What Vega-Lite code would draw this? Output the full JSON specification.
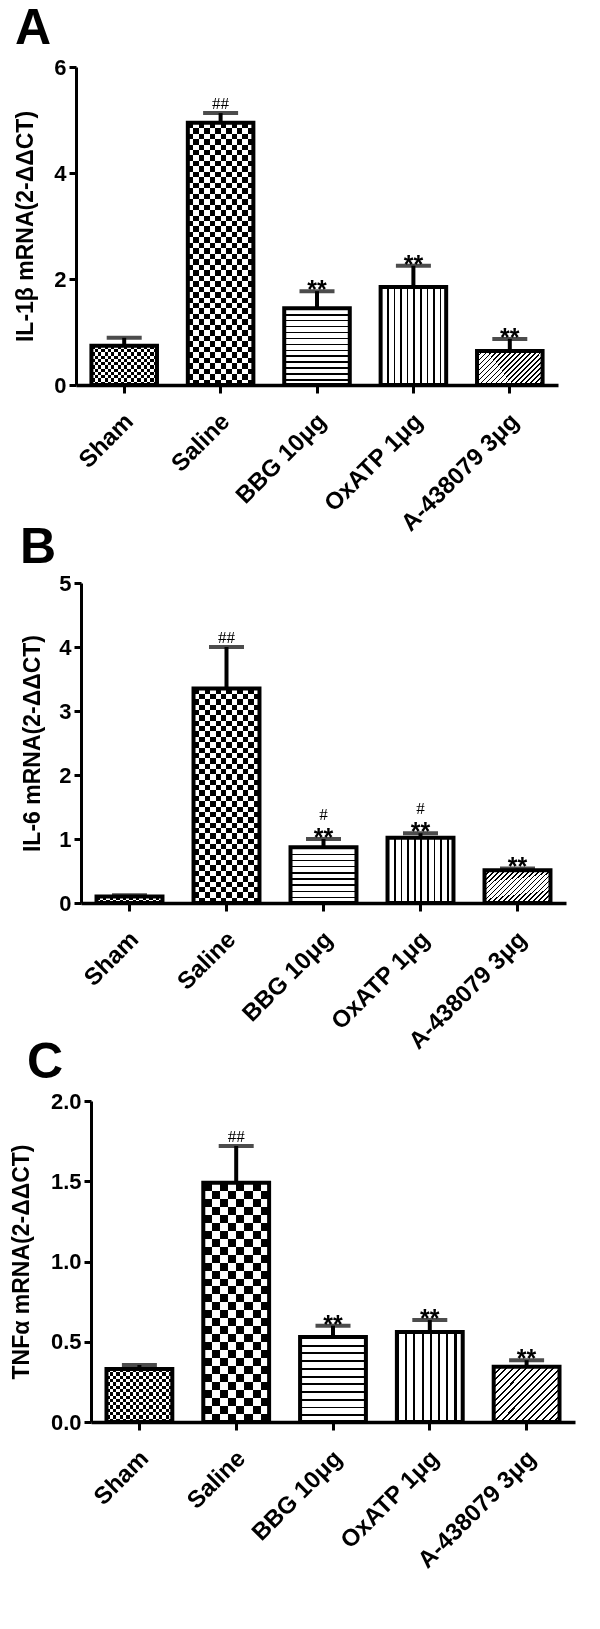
{
  "$schema": "https://vega.github.io/schema/vega-lite/v6.json",
  "background": "white",
  "padding": {"left": 10, "top": 4, "right": 5, "bottom": 5},
  "bounds": "flush",
  "spacing": 198,
  "datasets": {
    "a": [
      {"group": "Sham", "mean": 0.74, "err": 0.89, "star": "", "hash": ""},
      {"group": "Saline", "mean": 4.95, "err": 5.13, "star": "", "hash": "##"},
      {"group": "BBG 10μg", "mean": 1.45, "err": 1.77, "star": "**", "hash": ""},
      {"group": "OxATP 1μg", "mean": 1.85, "err": 2.25, "star": "**", "hash": ""},
      {"group": "A-438079 3μg", "mean": 0.64, "err": 0.87, "star": "**", "hash": ""}
    ],
    "b": [
      {"group": "Sham", "mean": 0.1, "err": 0.12, "star": "", "hash": ""},
      {"group": "Saline", "mean": 3.35, "err": 4.0, "star": "", "hash": "##"},
      {"group": "BBG 10μg", "mean": 0.87, "err": 1.0, "star": "**", "hash": "#"},
      {"group": "OxATP 1μg", "mean": 1.02, "err": 1.09, "star": "**", "hash": "#"},
      {"group": "A-438079 3μg", "mean": 0.51, "err": 0.54, "star": "**", "hash": ""}
    ],
    "c": [
      {"group": "Sham", "mean": 0.33, "err": 0.355, "star": "", "hash": ""},
      {"group": "Saline", "mean": 1.49, "err": 1.72, "star": "", "hash": "##"},
      {"group": "BBG 10μg", "mean": 0.53, "err": 0.6, "star": "**", "hash": ""},
      {"group": "OxATP 1μg", "mean": 0.56, "err": 0.635, "star": "**", "hash": ""},
      {"group": "A-438079 3μg", "mean": 0.345, "err": 0.385, "star": "**", "hash": ""}
    ]
  },
  "config": {
    "view": {"stroke": null},
    "font": "Liberation Sans",
    "axis": {"grid": false, "domainColor": "#000", "domainWidth": 3, "tickColor": "#000", "tickWidth": 3, "tickSize": 7, "labelColor": "#000", "labelFont": "Liberation Sans", "labelFontWeight": "bold", "labelFontSize": 22, "titleColor": "#000", "titleFont": "Liberation Sans", "titleFontWeight": "bold", "titleFontSize": 23},
    "axisX": {"labelAngle": -45, "labelFontSize": 24, "tickSize": 8, "domainWidth": 3.5, "labelPadding": 16, "labelOffset": -3},
    "axisY": {"labelPadding": 3},
    "bar": {"stroke": "#000", "strokeWidth": 4, "strokeJoin": "miter"}
  },
  "vconcat": [
    {
      "title": {"text": "A", "anchor": "start", "frame": "group", "fontSize": 50, "fontWeight": "bold", "font": "Liberation Sans", "color": "#000", "dx": -61, "offset": -38, "baseline": "alphabetic"},
      "width": 482,
      "height": 318,
      "data": {"name": "a"},
      "encoding": {
        "x": {"field": "group", "type": "nominal", "title": null, "scale": {"domain": ["Sham", "Saline", "BBG 10μg", "OxATP 1μg", "A-438079 3μg"], "range": [0, 482], "paddingInner": 0.32, "paddingOuter": 0.16}},
        "y": {"field": "mean", "type": "quantitative", "title": "IL-1β mRNA(2-ΔΔCT)", "scale": {"domain": [0, 6]}, "axis": {"values": [0, 2, 4, 6], "titlePadding": 16}}
      },
      "layer": [
        {"transform": [{"filter": "datum.group === 'Sham'"}], "mark": {"type": "bar", "fill": {"gradient": "linear", "x1": 0, "y1": 0, "x2": 1, "y2": 0, "stops": [
          {"offset":0,"color":"#000"},{"offset":0.05,"color":"#000"},{"offset":0.05,"color":"#fff"},{"offset":0.1,"color":"#fff"},
          {"offset":0.1,"color":"#000"},{"offset":0.15,"color":"#000"},{"offset":0.15,"color":"#fff"},{"offset":0.2,"color":"#fff"},
          {"offset":0.2,"color":"#000"},{"offset":0.25,"color":"#000"},{"offset":0.25,"color":"#fff"},{"offset":0.3,"color":"#fff"},
          {"offset":0.3,"color":"#000"},{"offset":0.35,"color":"#000"},{"offset":0.35,"color":"#fff"},{"offset":0.4,"color":"#fff"},
          {"offset":0.4,"color":"#000"},{"offset":0.45,"color":"#000"},{"offset":0.45,"color":"#fff"},{"offset":0.5,"color":"#fff"},
          {"offset":0.5,"color":"#000"},{"offset":0.55,"color":"#000"},{"offset":0.55,"color":"#fff"},{"offset":0.6,"color":"#fff"},
          {"offset":0.6,"color":"#000"},{"offset":0.65,"color":"#000"},{"offset":0.65,"color":"#fff"},{"offset":0.7,"color":"#fff"},
          {"offset":0.7,"color":"#000"},{"offset":0.75,"color":"#000"},{"offset":0.75,"color":"#fff"},{"offset":0.8,"color":"#fff"},
          {"offset":0.8,"color":"#000"},{"offset":0.85,"color":"#000"},{"offset":0.85,"color":"#fff"},{"offset":0.9,"color":"#fff"},
          {"offset":0.9,"color":"#000"},{"offset":0.95,"color":"#000"},{"offset":0.95,"color":"#fff"},{"offset":1,"color":"#fff"}]}}},
        {"transform": [{"filter": "datum.group === 'Sham'"}], "mark": {"type": "bar", "blend": "difference", "fill": {"gradient": "linear", "x1": 0, "y1": 0, "x2": 0, "y2": 1, "stops": [
          {"offset":0,"color":"#000"},{"offset":0.0833,"color":"#000"},{"offset":0.0833,"color":"#fff"},{"offset":0.1667,"color":"#fff"},
          {"offset":0.1667,"color":"#000"},{"offset":0.25,"color":"#000"},{"offset":0.25,"color":"#fff"},{"offset":0.3333,"color":"#fff"},
          {"offset":0.3333,"color":"#000"},{"offset":0.4167,"color":"#000"},{"offset":0.4167,"color":"#fff"},{"offset":0.5,"color":"#fff"},
          {"offset":0.5,"color":"#000"},{"offset":0.5833,"color":"#000"},{"offset":0.5833,"color":"#fff"},{"offset":0.6667,"color":"#fff"},
          {"offset":0.6667,"color":"#000"},{"offset":0.75,"color":"#000"},{"offset":0.75,"color":"#fff"},{"offset":0.8333,"color":"#fff"},
          {"offset":0.8333,"color":"#000"},{"offset":0.9167,"color":"#000"},{"offset":0.9167,"color":"#fff"},{"offset":1,"color":"#fff"}]}}},
        {"transform": [{"filter": "datum.group === 'Saline'"}], "mark": {"type": "bar", "fill": {"gradient": "linear", "x1": 0, "y1": 0, "x2": 1, "y2": 0, "stops": [
          {"offset":0,"color":"#000"},{"offset":0.0833,"color":"#000"},{"offset":0.0833,"color":"#fff"},{"offset":0.1667,"color":"#fff"},
          {"offset":0.1667,"color":"#000"},{"offset":0.25,"color":"#000"},{"offset":0.25,"color":"#fff"},{"offset":0.3333,"color":"#fff"},
          {"offset":0.3333,"color":"#000"},{"offset":0.4167,"color":"#000"},{"offset":0.4167,"color":"#fff"},{"offset":0.5,"color":"#fff"},
          {"offset":0.5,"color":"#000"},{"offset":0.5833,"color":"#000"},{"offset":0.5833,"color":"#fff"},{"offset":0.6667,"color":"#fff"},
          {"offset":0.6667,"color":"#000"},{"offset":0.75,"color":"#000"},{"offset":0.75,"color":"#fff"},{"offset":0.8333,"color":"#fff"},
          {"offset":0.8333,"color":"#000"},{"offset":0.9167,"color":"#000"},{"offset":0.9167,"color":"#fff"},{"offset":1,"color":"#fff"}]}}},
        {"transform": [{"filter": "datum.group === 'Saline'"}], "mark": {"type": "bar", "blend": "difference", "fill": {"gradient": "linear", "x1": 0, "y1": 0, "x2": 0, "y2": 1, "stops": [
          {"offset":0,"color":"#000"},{"offset":0.0208,"color":"#000"},{"offset":0.0208,"color":"#fff"},{"offset":0.0417,"color":"#fff"},
          {"offset":0.0417,"color":"#000"},{"offset":0.0625,"color":"#000"},{"offset":0.0625,"color":"#fff"},{"offset":0.0833,"color":"#fff"},
          {"offset":0.0833,"color":"#000"},{"offset":0.1042,"color":"#000"},{"offset":0.1042,"color":"#fff"},{"offset":0.125,"color":"#fff"},
          {"offset":0.125,"color":"#000"},{"offset":0.1458,"color":"#000"},{"offset":0.1458,"color":"#fff"},{"offset":0.1667,"color":"#fff"},
          {"offset":0.1667,"color":"#000"},{"offset":0.1875,"color":"#000"},{"offset":0.1875,"color":"#fff"},{"offset":0.2083,"color":"#fff"},
          {"offset":0.2083,"color":"#000"},{"offset":0.2292,"color":"#000"},{"offset":0.2292,"color":"#fff"},{"offset":0.25,"color":"#fff"},
          {"offset":0.25,"color":"#000"},{"offset":0.2708,"color":"#000"},{"offset":0.2708,"color":"#fff"},{"offset":0.2917,"color":"#fff"},
          {"offset":0.2917,"color":"#000"},{"offset":0.3125,"color":"#000"},{"offset":0.3125,"color":"#fff"},{"offset":0.3333,"color":"#fff"},
          {"offset":0.3333,"color":"#000"},{"offset":0.3542,"color":"#000"},{"offset":0.3542,"color":"#fff"},{"offset":0.375,"color":"#fff"},
          {"offset":0.375,"color":"#000"},{"offset":0.3958,"color":"#000"},{"offset":0.3958,"color":"#fff"},{"offset":0.4167,"color":"#fff"},
          {"offset":0.4167,"color":"#000"},{"offset":0.4375,"color":"#000"},{"offset":0.4375,"color":"#fff"},{"offset":0.4583,"color":"#fff"},
          {"offset":0.4583,"color":"#000"},{"offset":0.4792,"color":"#000"},{"offset":0.4792,"color":"#fff"},{"offset":0.5,"color":"#fff"},
          {"offset":0.5,"color":"#000"},{"offset":0.5208,"color":"#000"},{"offset":0.5208,"color":"#fff"},{"offset":0.5417,"color":"#fff"},
          {"offset":0.5417,"color":"#000"},{"offset":0.5625,"color":"#000"},{"offset":0.5625,"color":"#fff"},{"offset":0.5833,"color":"#fff"},
          {"offset":0.5833,"color":"#000"},{"offset":0.6042,"color":"#000"},{"offset":0.6042,"color":"#fff"},{"offset":0.625,"color":"#fff"},
          {"offset":0.625,"color":"#000"},{"offset":0.6458,"color":"#000"},{"offset":0.6458,"color":"#fff"},{"offset":0.6667,"color":"#fff"},
          {"offset":0.6667,"color":"#000"},{"offset":0.6875,"color":"#000"},{"offset":0.6875,"color":"#fff"},{"offset":0.7083,"color":"#fff"},
          {"offset":0.7083,"color":"#000"},{"offset":0.7292,"color":"#000"},{"offset":0.7292,"color":"#fff"},{"offset":0.75,"color":"#fff"},
          {"offset":0.75,"color":"#000"},{"offset":0.7708,"color":"#000"},{"offset":0.7708,"color":"#fff"},{"offset":0.7917,"color":"#fff"},
          {"offset":0.7917,"color":"#000"},{"offset":0.8125,"color":"#000"},{"offset":0.8125,"color":"#fff"},{"offset":0.8333,"color":"#fff"},
          {"offset":0.8333,"color":"#000"},{"offset":0.8542,"color":"#000"},{"offset":0.8542,"color":"#fff"},{"offset":0.875,"color":"#fff"},
          {"offset":0.875,"color":"#000"},{"offset":0.8958,"color":"#000"},{"offset":0.8958,"color":"#fff"},{"offset":0.9167,"color":"#fff"},
          {"offset":0.9167,"color":"#000"},{"offset":0.9375,"color":"#000"},{"offset":0.9375,"color":"#fff"},{"offset":0.9583,"color":"#fff"},
          {"offset":0.9583,"color":"#000"},{"offset":0.9792,"color":"#000"},{"offset":0.9792,"color":"#fff"},{"offset":1,"color":"#fff"}]}}},
        {"transform": [{"filter": "datum.group === 'BBG 10μg'"}], "mark": {"type": "bar", "fill": {"gradient": "linear", "x1": 0, "y1": 0, "x2": 0, "y2": 1, "stops": [
          {"offset":0,"color":"#000"},{"offset":0.0192,"color":"#000"},{"offset":0.0192,"color":"#fff"},{"offset":0.0769,"color":"#fff"},
          {"offset":0.0769,"color":"#000"},{"offset":0.0962,"color":"#000"},{"offset":0.0962,"color":"#fff"},{"offset":0.1538,"color":"#fff"},
          {"offset":0.1538,"color":"#000"},{"offset":0.1731,"color":"#000"},{"offset":0.1731,"color":"#fff"},{"offset":0.2308,"color":"#fff"},
          {"offset":0.2308,"color":"#000"},{"offset":0.25,"color":"#000"},{"offset":0.25,"color":"#fff"},{"offset":0.3077,"color":"#fff"},
          {"offset":0.3077,"color":"#000"},{"offset":0.3269,"color":"#000"},{"offset":0.3269,"color":"#fff"},{"offset":0.3846,"color":"#fff"},
          {"offset":0.3846,"color":"#000"},{"offset":0.4038,"color":"#000"},{"offset":0.4038,"color":"#fff"},{"offset":0.4615,"color":"#fff"},
          {"offset":0.4615,"color":"#000"},{"offset":0.4808,"color":"#000"},{"offset":0.4808,"color":"#fff"},{"offset":0.5385,"color":"#fff"},
          {"offset":0.5385,"color":"#000"},{"offset":0.5577,"color":"#000"},{"offset":0.5577,"color":"#fff"},{"offset":0.6154,"color":"#fff"},
          {"offset":0.6154,"color":"#000"},{"offset":0.6346,"color":"#000"},{"offset":0.6346,"color":"#fff"},{"offset":0.6923,"color":"#fff"},
          {"offset":0.6923,"color":"#000"},{"offset":0.7115,"color":"#000"},{"offset":0.7115,"color":"#fff"},{"offset":0.7692,"color":"#fff"},
          {"offset":0.7692,"color":"#000"},{"offset":0.7885,"color":"#000"},{"offset":0.7885,"color":"#fff"},{"offset":0.8462,"color":"#fff"},
          {"offset":0.8462,"color":"#000"},{"offset":0.8654,"color":"#000"},{"offset":0.8654,"color":"#fff"},{"offset":0.9231,"color":"#fff"},
          {"offset":0.9231,"color":"#000"},{"offset":0.9423,"color":"#000"},{"offset":0.9423,"color":"#fff"},{"offset":1,"color":"#fff"}]}}},
        {"transform": [{"filter": "datum.group === 'OxATP 1μg'"}], "mark": {"type": "bar", "fill": {"gradient": "linear", "x1": 0, "y1": 0, "x2": 1, "y2": 0, "stops": [
          {"offset":0,"color":"#000"},{"offset":0.025,"color":"#000"},{"offset":0.025,"color":"#fff"},{"offset":0.1,"color":"#fff"},
          {"offset":0.1,"color":"#000"},{"offset":0.125,"color":"#000"},{"offset":0.125,"color":"#fff"},{"offset":0.2,"color":"#fff"},
          {"offset":0.2,"color":"#000"},{"offset":0.225,"color":"#000"},{"offset":0.225,"color":"#fff"},{"offset":0.3,"color":"#fff"},
          {"offset":0.3,"color":"#000"},{"offset":0.325,"color":"#000"},{"offset":0.325,"color":"#fff"},{"offset":0.4,"color":"#fff"},
          {"offset":0.4,"color":"#000"},{"offset":0.425,"color":"#000"},{"offset":0.425,"color":"#fff"},{"offset":0.5,"color":"#fff"},
          {"offset":0.5,"color":"#000"},{"offset":0.525,"color":"#000"},{"offset":0.525,"color":"#fff"},{"offset":0.6,"color":"#fff"},
          {"offset":0.6,"color":"#000"},{"offset":0.625,"color":"#000"},{"offset":0.625,"color":"#fff"},{"offset":0.7,"color":"#fff"},
          {"offset":0.7,"color":"#000"},{"offset":0.725,"color":"#000"},{"offset":0.725,"color":"#fff"},{"offset":0.8,"color":"#fff"},
          {"offset":0.8,"color":"#000"},{"offset":0.825,"color":"#000"},{"offset":0.825,"color":"#fff"},{"offset":0.9,"color":"#fff"},
          {"offset":0.9,"color":"#000"},{"offset":0.925,"color":"#000"},{"offset":0.925,"color":"#fff"},{"offset":1,"color":"#fff"}]}}},
        {"transform": [{"filter": "datum.group === 'A-438079 3μg'"}], "mark": {"type": "bar", "fill": {"gradient": "linear", "x1": 0, "y1": 0, "x2": 1.2, "y2": 0.61, "stops": [
          {"offset":0,"color":"#000"},{"offset":0.015,"color":"#000"},{"offset":0.015,"color":"#fff"},{"offset":0.05,"color":"#fff"},
          {"offset":0.05,"color":"#000"},{"offset":0.065,"color":"#000"},{"offset":0.065,"color":"#fff"},{"offset":0.1,"color":"#fff"},
          {"offset":0.1,"color":"#000"},{"offset":0.115,"color":"#000"},{"offset":0.115,"color":"#fff"},{"offset":0.15,"color":"#fff"},
          {"offset":0.15,"color":"#000"},{"offset":0.165,"color":"#000"},{"offset":0.165,"color":"#fff"},{"offset":0.2,"color":"#fff"},
          {"offset":0.2,"color":"#000"},{"offset":0.215,"color":"#000"},{"offset":0.215,"color":"#fff"},{"offset":0.25,"color":"#fff"},
          {"offset":0.25,"color":"#000"},{"offset":0.265,"color":"#000"},{"offset":0.265,"color":"#fff"},{"offset":0.3,"color":"#fff"},
          {"offset":0.3,"color":"#000"},{"offset":0.315,"color":"#000"},{"offset":0.315,"color":"#fff"},{"offset":0.35,"color":"#fff"},
          {"offset":0.35,"color":"#000"},{"offset":0.365,"color":"#000"},{"offset":0.365,"color":"#fff"},{"offset":0.4,"color":"#fff"},
          {"offset":0.4,"color":"#000"},{"offset":0.415,"color":"#000"},{"offset":0.415,"color":"#fff"},{"offset":0.45,"color":"#fff"},
          {"offset":0.45,"color":"#000"},{"offset":0.465,"color":"#000"},{"offset":0.465,"color":"#fff"},{"offset":0.5,"color":"#fff"},
          {"offset":0.5,"color":"#000"},{"offset":0.515,"color":"#000"},{"offset":0.515,"color":"#fff"},{"offset":0.55,"color":"#fff"},
          {"offset":0.55,"color":"#000"},{"offset":0.565,"color":"#000"},{"offset":0.565,"color":"#fff"},{"offset":0.6,"color":"#fff"},
          {"offset":0.6,"color":"#000"},{"offset":0.615,"color":"#000"},{"offset":0.615,"color":"#fff"},{"offset":0.65,"color":"#fff"},
          {"offset":0.65,"color":"#000"},{"offset":0.665,"color":"#000"},{"offset":0.665,"color":"#fff"},{"offset":0.7,"color":"#fff"},
          {"offset":0.7,"color":"#000"},{"offset":0.715,"color":"#000"},{"offset":0.715,"color":"#fff"},{"offset":0.75,"color":"#fff"},
          {"offset":0.75,"color":"#000"},{"offset":0.765,"color":"#000"},{"offset":0.765,"color":"#fff"},{"offset":0.8,"color":"#fff"},
          {"offset":0.8,"color":"#000"},{"offset":0.815,"color":"#000"},{"offset":0.815,"color":"#fff"},{"offset":0.85,"color":"#fff"},
          {"offset":0.85,"color":"#000"},{"offset":0.865,"color":"#000"},{"offset":0.865,"color":"#fff"},{"offset":0.9,"color":"#fff"},
          {"offset":0.9,"color":"#000"},{"offset":0.915,"color":"#000"},{"offset":0.915,"color":"#fff"},{"offset":0.95,"color":"#fff"},
          {"offset":0.95,"color":"#000"},{"offset":0.965,"color":"#000"},{"offset":0.965,"color":"#fff"},{"offset":1,"color":"#fff"}]}}},
        {"mark": {"type": "rule", "color": "#000", "strokeWidth": 4}, "encoding": {"y2": {"field": "err"}}},
        {"mark": {"type": "tick", "color": "#000", "thickness": 4, "size": 35}, "encoding": {"y": {"field": "err", "type": "quantitative", "title": "IL-1β mRNA(2-ΔΔCT)"}}},
        {"mark": {"type": "text", "font": "Liberation Sans", "fontSize": 25, "fontWeight": "bold", "baseline": "alphabetic", "dy": 7, "color": "#000"}, "encoding": {"y": {"field": "err", "type": "quantitative", "title": "IL-1β mRNA(2-ΔΔCT)"}, "text": {"field": "star"}}},
        {"mark": {"type": "text", "font": "Liberation Serif", "fontSize": 17, "baseline": "alphabetic", "dy": -4, "color": "#000"}, "encoding": {"y": {"field": "err", "type": "quantitative", "title": "IL-1β mRNA(2-ΔΔCT)"}, "text": {"field": "hash"}}}
      ]
    },
    {
      "title": {"text": "B", "anchor": "start", "frame": "group", "fontSize": 50, "fontWeight": "bold", "font": "Liberation Sans", "color": "#000", "dx": -56, "offset": -41, "baseline": "alphabetic"},
      "width": 490,
      "height": 320,
      "data": {"name": "b"},
      "encoding": {
        "x": {"field": "group", "type": "nominal", "title": null, "scale": {"domain": ["Sham", "Saline", "BBG 10μg", "OxATP 1μg", "A-438079 3μg"], "range": [5, 490], "paddingInner": 0.32, "paddingOuter": 0.16}},
        "y": {"field": "mean", "type": "quantitative", "title": "IL-6 mRNA(2-ΔΔCT)", "scale": {"domain": [0, 5]}, "axis": {"values": [0, 1, 2, 3, 4, 5], "offset": -5, "titlePadding": 14}}
      },
      "layer": [
        {"transform": [{"filter": "datum.group === 'Sham'"}], "mark": {"type": "bar", "fill": {"gradient": "linear", "x1": 0, "y1": 0, "x2": 1, "y2": 0, "stops": [
          {"offset":0,"color":"#000"},{"offset":0.05,"color":"#000"},{"offset":0.05,"color":"#fff"},{"offset":0.1,"color":"#fff"},
          {"offset":0.1,"color":"#000"},{"offset":0.15,"color":"#000"},{"offset":0.15,"color":"#fff"},{"offset":0.2,"color":"#fff"},
          {"offset":0.2,"color":"#000"},{"offset":0.25,"color":"#000"},{"offset":0.25,"color":"#fff"},{"offset":0.3,"color":"#fff"},
          {"offset":0.3,"color":"#000"},{"offset":0.35,"color":"#000"},{"offset":0.35,"color":"#fff"},{"offset":0.4,"color":"#fff"},
          {"offset":0.4,"color":"#000"},{"offset":0.45,"color":"#000"},{"offset":0.45,"color":"#fff"},{"offset":0.5,"color":"#fff"},
          {"offset":0.5,"color":"#000"},{"offset":0.55,"color":"#000"},{"offset":0.55,"color":"#fff"},{"offset":0.6,"color":"#fff"},
          {"offset":0.6,"color":"#000"},{"offset":0.65,"color":"#000"},{"offset":0.65,"color":"#fff"},{"offset":0.7,"color":"#fff"},
          {"offset":0.7,"color":"#000"},{"offset":0.75,"color":"#000"},{"offset":0.75,"color":"#fff"},{"offset":0.8,"color":"#fff"},
          {"offset":0.8,"color":"#000"},{"offset":0.85,"color":"#000"},{"offset":0.85,"color":"#fff"},{"offset":0.9,"color":"#fff"},
          {"offset":0.9,"color":"#000"},{"offset":0.95,"color":"#000"},{"offset":0.95,"color":"#fff"},{"offset":1,"color":"#fff"}]}}},
        {"transform": [{"filter": "datum.group === 'Sham'"}], "mark": {"type": "bar", "blend": "difference", "fill": {"gradient": "linear", "x1": 0, "y1": 0, "x2": 0, "y2": 1, "stops": [
          {"offset":0,"color":"#000"},{"offset":0.5,"color":"#000"},{"offset":0.5,"color":"#fff"},{"offset":1,"color":"#fff"}]}}},
        {"transform": [{"filter": "datum.group === 'Saline'"}], "mark": {"type": "bar", "fill": {"gradient": "linear", "x1": 0, "y1": 0, "x2": 1, "y2": 0, "stops": [
          {"offset":0,"color":"#000"},{"offset":0.0833,"color":"#000"},{"offset":0.0833,"color":"#fff"},{"offset":0.1667,"color":"#fff"},
          {"offset":0.1667,"color":"#000"},{"offset":0.25,"color":"#000"},{"offset":0.25,"color":"#fff"},{"offset":0.3333,"color":"#fff"},
          {"offset":0.3333,"color":"#000"},{"offset":0.4167,"color":"#000"},{"offset":0.4167,"color":"#fff"},{"offset":0.5,"color":"#fff"},
          {"offset":0.5,"color":"#000"},{"offset":0.5833,"color":"#000"},{"offset":0.5833,"color":"#fff"},{"offset":0.6667,"color":"#fff"},
          {"offset":0.6667,"color":"#000"},{"offset":0.75,"color":"#000"},{"offset":0.75,"color":"#fff"},{"offset":0.8333,"color":"#fff"},
          {"offset":0.8333,"color":"#000"},{"offset":0.9167,"color":"#000"},{"offset":0.9167,"color":"#fff"},{"offset":1,"color":"#fff"}]}}},
        {"transform": [{"filter": "datum.group === 'Saline'"}], "mark": {"type": "bar", "blend": "difference", "fill": {"gradient": "linear", "x1": 0, "y1": 0, "x2": 0, "y2": 1, "stops": [
          {"offset":0,"color":"#000"},{"offset":0.025,"color":"#000"},{"offset":0.025,"color":"#fff"},{"offset":0.05,"color":"#fff"},
          {"offset":0.05,"color":"#000"},{"offset":0.075,"color":"#000"},{"offset":0.075,"color":"#fff"},{"offset":0.1,"color":"#fff"},
          {"offset":0.1,"color":"#000"},{"offset":0.125,"color":"#000"},{"offset":0.125,"color":"#fff"},{"offset":0.15,"color":"#fff"},
          {"offset":0.15,"color":"#000"},{"offset":0.175,"color":"#000"},{"offset":0.175,"color":"#fff"},{"offset":0.2,"color":"#fff"},
          {"offset":0.2,"color":"#000"},{"offset":0.225,"color":"#000"},{"offset":0.225,"color":"#fff"},{"offset":0.25,"color":"#fff"},
          {"offset":0.25,"color":"#000"},{"offset":0.275,"color":"#000"},{"offset":0.275,"color":"#fff"},{"offset":0.3,"color":"#fff"},
          {"offset":0.3,"color":"#000"},{"offset":0.325,"color":"#000"},{"offset":0.325,"color":"#fff"},{"offset":0.35,"color":"#fff"},
          {"offset":0.35,"color":"#000"},{"offset":0.375,"color":"#000"},{"offset":0.375,"color":"#fff"},{"offset":0.4,"color":"#fff"},
          {"offset":0.4,"color":"#000"},{"offset":0.425,"color":"#000"},{"offset":0.425,"color":"#fff"},{"offset":0.45,"color":"#fff"},
          {"offset":0.45,"color":"#000"},{"offset":0.475,"color":"#000"},{"offset":0.475,"color":"#fff"},{"offset":0.5,"color":"#fff"},
          {"offset":0.5,"color":"#000"},{"offset":0.525,"color":"#000"},{"offset":0.525,"color":"#fff"},{"offset":0.55,"color":"#fff"},
          {"offset":0.55,"color":"#000"},{"offset":0.575,"color":"#000"},{"offset":0.575,"color":"#fff"},{"offset":0.6,"color":"#fff"},
          {"offset":0.6,"color":"#000"},{"offset":0.625,"color":"#000"},{"offset":0.625,"color":"#fff"},{"offset":0.65,"color":"#fff"},
          {"offset":0.65,"color":"#000"},{"offset":0.675,"color":"#000"},{"offset":0.675,"color":"#fff"},{"offset":0.7,"color":"#fff"},
          {"offset":0.7,"color":"#000"},{"offset":0.725,"color":"#000"},{"offset":0.725,"color":"#fff"},{"offset":0.75,"color":"#fff"},
          {"offset":0.75,"color":"#000"},{"offset":0.775,"color":"#000"},{"offset":0.775,"color":"#fff"},{"offset":0.8,"color":"#fff"},
          {"offset":0.8,"color":"#000"},{"offset":0.825,"color":"#000"},{"offset":0.825,"color":"#fff"},{"offset":0.85,"color":"#fff"},
          {"offset":0.85,"color":"#000"},{"offset":0.875,"color":"#000"},{"offset":0.875,"color":"#fff"},{"offset":0.9,"color":"#fff"},
          {"offset":0.9,"color":"#000"},{"offset":0.925,"color":"#000"},{"offset":0.925,"color":"#fff"},{"offset":0.95,"color":"#fff"},
          {"offset":0.95,"color":"#000"},{"offset":0.975,"color":"#000"},{"offset":0.975,"color":"#fff"},{"offset":1,"color":"#fff"}]}}},
        {"transform": [{"filter": "datum.group === 'BBG 10μg'"}], "mark": {"type": "bar", "fill": {"gradient": "linear", "x1": 0, "y1": 0, "x2": 0, "y2": 1, "stops": [
          {"offset":0,"color":"#000"},{"offset":0.0278,"color":"#000"},{"offset":0.0278,"color":"#fff"},{"offset":0.1111,"color":"#fff"},
          {"offset":0.1111,"color":"#000"},{"offset":0.1389,"color":"#000"},{"offset":0.1389,"color":"#fff"},{"offset":0.2222,"color":"#fff"},
          {"offset":0.2222,"color":"#000"},{"offset":0.25,"color":"#000"},{"offset":0.25,"color":"#fff"},{"offset":0.3333,"color":"#fff"},
          {"offset":0.3333,"color":"#000"},{"offset":0.3611,"color":"#000"},{"offset":0.3611,"color":"#fff"},{"offset":0.4444,"color":"#fff"},
          {"offset":0.4444,"color":"#000"},{"offset":0.4722,"color":"#000"},{"offset":0.4722,"color":"#fff"},{"offset":0.5556,"color":"#fff"},
          {"offset":0.5556,"color":"#000"},{"offset":0.5833,"color":"#000"},{"offset":0.5833,"color":"#fff"},{"offset":0.6667,"color":"#fff"},
          {"offset":0.6667,"color":"#000"},{"offset":0.6944,"color":"#000"},{"offset":0.6944,"color":"#fff"},{"offset":0.7778,"color":"#fff"},
          {"offset":0.7778,"color":"#000"},{"offset":0.8056,"color":"#000"},{"offset":0.8056,"color":"#fff"},{"offset":0.8889,"color":"#fff"},
          {"offset":0.8889,"color":"#000"},{"offset":0.9167,"color":"#000"},{"offset":0.9167,"color":"#fff"},{"offset":1,"color":"#fff"}]}}},
        {"transform": [{"filter": "datum.group === 'OxATP 1μg'"}], "mark": {"type": "bar", "fill": {"gradient": "linear", "x1": 0, "y1": 0, "x2": 1, "y2": 0, "stops": [
          {"offset":0,"color":"#000"},{"offset":0.025,"color":"#000"},{"offset":0.025,"color":"#fff"},{"offset":0.1,"color":"#fff"},
          {"offset":0.1,"color":"#000"},{"offset":0.125,"color":"#000"},{"offset":0.125,"color":"#fff"},{"offset":0.2,"color":"#fff"},
          {"offset":0.2,"color":"#000"},{"offset":0.225,"color":"#000"},{"offset":0.225,"color":"#fff"},{"offset":0.3,"color":"#fff"},
          {"offset":0.3,"color":"#000"},{"offset":0.325,"color":"#000"},{"offset":0.325,"color":"#fff"},{"offset":0.4,"color":"#fff"},
          {"offset":0.4,"color":"#000"},{"offset":0.425,"color":"#000"},{"offset":0.425,"color":"#fff"},{"offset":0.5,"color":"#fff"},
          {"offset":0.5,"color":"#000"},{"offset":0.525,"color":"#000"},{"offset":0.525,"color":"#fff"},{"offset":0.6,"color":"#fff"},
          {"offset":0.6,"color":"#000"},{"offset":0.625,"color":"#000"},{"offset":0.625,"color":"#fff"},{"offset":0.7,"color":"#fff"},
          {"offset":0.7,"color":"#000"},{"offset":0.725,"color":"#000"},{"offset":0.725,"color":"#fff"},{"offset":0.8,"color":"#fff"},
          {"offset":0.8,"color":"#000"},{"offset":0.825,"color":"#000"},{"offset":0.825,"color":"#fff"},{"offset":0.9,"color":"#fff"},
          {"offset":0.9,"color":"#000"},{"offset":0.925,"color":"#000"},{"offset":0.925,"color":"#fff"},{"offset":1,"color":"#fff"}]}}},
        {"transform": [{"filter": "datum.group === 'A-438079 3μg'"}], "mark": {"type": "bar", "fill": {"gradient": "linear", "x1": 0, "y1": 0, "x2": 1.2, "y2": 0.61, "stops": [
          {"offset":0,"color":"#000"},{"offset":0.015,"color":"#000"},{"offset":0.015,"color":"#fff"},{"offset":0.05,"color":"#fff"},
          {"offset":0.05,"color":"#000"},{"offset":0.065,"color":"#000"},{"offset":0.065,"color":"#fff"},{"offset":0.1,"color":"#fff"},
          {"offset":0.1,"color":"#000"},{"offset":0.115,"color":"#000"},{"offset":0.115,"color":"#fff"},{"offset":0.15,"color":"#fff"},
          {"offset":0.15,"color":"#000"},{"offset":0.165,"color":"#000"},{"offset":0.165,"color":"#fff"},{"offset":0.2,"color":"#fff"},
          {"offset":0.2,"color":"#000"},{"offset":0.215,"color":"#000"},{"offset":0.215,"color":"#fff"},{"offset":0.25,"color":"#fff"},
          {"offset":0.25,"color":"#000"},{"offset":0.265,"color":"#000"},{"offset":0.265,"color":"#fff"},{"offset":0.3,"color":"#fff"},
          {"offset":0.3,"color":"#000"},{"offset":0.315,"color":"#000"},{"offset":0.315,"color":"#fff"},{"offset":0.35,"color":"#fff"},
          {"offset":0.35,"color":"#000"},{"offset":0.365,"color":"#000"},{"offset":0.365,"color":"#fff"},{"offset":0.4,"color":"#fff"},
          {"offset":0.4,"color":"#000"},{"offset":0.415,"color":"#000"},{"offset":0.415,"color":"#fff"},{"offset":0.45,"color":"#fff"},
          {"offset":0.45,"color":"#000"},{"offset":0.465,"color":"#000"},{"offset":0.465,"color":"#fff"},{"offset":0.5,"color":"#fff"},
          {"offset":0.5,"color":"#000"},{"offset":0.515,"color":"#000"},{"offset":0.515,"color":"#fff"},{"offset":0.55,"color":"#fff"},
          {"offset":0.55,"color":"#000"},{"offset":0.565,"color":"#000"},{"offset":0.565,"color":"#fff"},{"offset":0.6,"color":"#fff"},
          {"offset":0.6,"color":"#000"},{"offset":0.615,"color":"#000"},{"offset":0.615,"color":"#fff"},{"offset":0.65,"color":"#fff"},
          {"offset":0.65,"color":"#000"},{"offset":0.665,"color":"#000"},{"offset":0.665,"color":"#fff"},{"offset":0.7,"color":"#fff"},
          {"offset":0.7,"color":"#000"},{"offset":0.715,"color":"#000"},{"offset":0.715,"color":"#fff"},{"offset":0.75,"color":"#fff"},
          {"offset":0.75,"color":"#000"},{"offset":0.765,"color":"#000"},{"offset":0.765,"color":"#fff"},{"offset":0.8,"color":"#fff"},
          {"offset":0.8,"color":"#000"},{"offset":0.815,"color":"#000"},{"offset":0.815,"color":"#fff"},{"offset":0.85,"color":"#fff"},
          {"offset":0.85,"color":"#000"},{"offset":0.865,"color":"#000"},{"offset":0.865,"color":"#fff"},{"offset":0.9,"color":"#fff"},
          {"offset":0.9,"color":"#000"},{"offset":0.915,"color":"#000"},{"offset":0.915,"color":"#fff"},{"offset":0.95,"color":"#fff"},
          {"offset":0.95,"color":"#000"},{"offset":0.965,"color":"#000"},{"offset":0.965,"color":"#fff"},{"offset":1,"color":"#fff"}]}}},
        {"mark": {"type": "rule", "color": "#000", "strokeWidth": 4}, "encoding": {"y2": {"field": "err"}}},
        {"mark": {"type": "tick", "color": "#000", "thickness": 4, "size": 35}, "encoding": {"y": {"field": "err", "type": "quantitative", "title": "IL-6 mRNA(2-ΔΔCT)"}}},
        {"mark": {"type": "text", "font": "Liberation Sans", "fontSize": 25, "fontWeight": "bold", "baseline": "alphabetic", "dy": 7, "color": "#000"}, "encoding": {"y": {"field": "err", "type": "quantitative", "title": "IL-6 mRNA(2-ΔΔCT)"}, "text": {"field": "star"}}},
        {"transform": [{"filter": "datum.star === ''"}], "mark": {"type": "text", "font": "Liberation Serif", "fontSize": 17, "baseline": "alphabetic", "dy": -4, "color": "#000"}, "encoding": {"y": {"field": "err", "type": "quantitative", "title": "IL-6 mRNA(2-ΔΔCT)"}, "text": {"field": "hash"}}},
        {"transform": [{"filter": "datum.star !== ''"}], "mark": {"type": "text", "font": "Liberation Serif", "fontSize": 17, "baseline": "alphabetic", "dy": -19, "color": "#000"}, "encoding": {"y": {"field": "err", "type": "quantitative", "title": "IL-6 mRNA(2-ΔΔCT)"}, "text": {"field": "hash"}}}
      ]
    },
    {
      "title": {"text": "C", "anchor": "start", "frame": "group", "fontSize": 50, "fontWeight": "bold", "font": "Liberation Sans", "color": "#000", "dx": -49, "offset": -38, "baseline": "alphabetic"},
      "width": 499,
      "height": 321,
      "data": {"name": "c"},
      "encoding": {
        "x": {"field": "group", "type": "nominal", "title": null, "scale": {"domain": ["Sham", "Saline", "BBG 10μg", "OxATP 1μg", "A-438079 3μg"], "range": [15, 499], "paddingInner": 0.32, "paddingOuter": 0.16}},
        "y": {"field": "mean", "type": "quantitative", "title": "TNFα mRNA(2-ΔΔCT)", "scale": {"domain": [0, 2]}, "axis": {"values": [0, 0.5, 1, 1.5, 2], "format": ".1f", "offset": -15, "titlePadding": 17}}
      },
      "layer": [
        {"transform": [{"filter": "datum.group === 'Sham'"}], "mark": {"type": "bar", "fill": {"gradient": "linear", "x1": 0, "y1": 0, "x2": 1, "y2": 0, "stops": [
          {"offset":0,"color":"#000"},{"offset":0.05,"color":"#000"},{"offset":0.05,"color":"#fff"},{"offset":0.1,"color":"#fff"},
          {"offset":0.1,"color":"#000"},{"offset":0.15,"color":"#000"},{"offset":0.15,"color":"#fff"},{"offset":0.2,"color":"#fff"},
          {"offset":0.2,"color":"#000"},{"offset":0.25,"color":"#000"},{"offset":0.25,"color":"#fff"},{"offset":0.3,"color":"#fff"},
          {"offset":0.3,"color":"#000"},{"offset":0.35,"color":"#000"},{"offset":0.35,"color":"#fff"},{"offset":0.4,"color":"#fff"},
          {"offset":0.4,"color":"#000"},{"offset":0.45,"color":"#000"},{"offset":0.45,"color":"#fff"},{"offset":0.5,"color":"#fff"},
          {"offset":0.5,"color":"#000"},{"offset":0.55,"color":"#000"},{"offset":0.55,"color":"#fff"},{"offset":0.6,"color":"#fff"},
          {"offset":0.6,"color":"#000"},{"offset":0.65,"color":"#000"},{"offset":0.65,"color":"#fff"},{"offset":0.7,"color":"#fff"},
          {"offset":0.7,"color":"#000"},{"offset":0.75,"color":"#000"},{"offset":0.75,"color":"#fff"},{"offset":0.8,"color":"#fff"},
          {"offset":0.8,"color":"#000"},{"offset":0.85,"color":"#000"},{"offset":0.85,"color":"#fff"},{"offset":0.9,"color":"#fff"},
          {"offset":0.9,"color":"#000"},{"offset":0.95,"color":"#000"},{"offset":0.95,"color":"#fff"},{"offset":1,"color":"#fff"}]}}},
        {"transform": [{"filter": "datum.group === 'Sham'"}], "mark": {"type": "bar", "blend": "difference", "fill": {"gradient": "linear", "x1": 0, "y1": 0, "x2": 0, "y2": 1, "stops": [
          {"offset":0,"color":"#000"},{"offset":0.0625,"color":"#000"},{"offset":0.0625,"color":"#fff"},{"offset":0.125,"color":"#fff"},
          {"offset":0.125,"color":"#000"},{"offset":0.1875,"color":"#000"},{"offset":0.1875,"color":"#fff"},{"offset":0.25,"color":"#fff"},
          {"offset":0.25,"color":"#000"},{"offset":0.3125,"color":"#000"},{"offset":0.3125,"color":"#fff"},{"offset":0.375,"color":"#fff"},
          {"offset":0.375,"color":"#000"},{"offset":0.4375,"color":"#000"},{"offset":0.4375,"color":"#fff"},{"offset":0.5,"color":"#fff"},
          {"offset":0.5,"color":"#000"},{"offset":0.5625,"color":"#000"},{"offset":0.5625,"color":"#fff"},{"offset":0.625,"color":"#fff"},
          {"offset":0.625,"color":"#000"},{"offset":0.6875,"color":"#000"},{"offset":0.6875,"color":"#fff"},{"offset":0.75,"color":"#fff"},
          {"offset":0.75,"color":"#000"},{"offset":0.8125,"color":"#000"},{"offset":0.8125,"color":"#fff"},{"offset":0.875,"color":"#fff"},
          {"offset":0.875,"color":"#000"},{"offset":0.9375,"color":"#000"},{"offset":0.9375,"color":"#fff"},{"offset":1,"color":"#fff"}]}}},
        {"transform": [{"filter": "datum.group === 'Saline'"}], "mark": {"type": "bar", "fill": {"gradient": "linear", "x1": 0, "y1": 0, "x2": 1, "y2": 0, "stops": [
          {"offset":0,"color":"#000"},{"offset":0.125,"color":"#000"},{"offset":0.125,"color":"#fff"},{"offset":0.25,"color":"#fff"},
          {"offset":0.25,"color":"#000"},{"offset":0.375,"color":"#000"},{"offset":0.375,"color":"#fff"},{"offset":0.5,"color":"#fff"},
          {"offset":0.5,"color":"#000"},{"offset":0.625,"color":"#000"},{"offset":0.625,"color":"#fff"},{"offset":0.75,"color":"#fff"},
          {"offset":0.75,"color":"#000"},{"offset":0.875,"color":"#000"},{"offset":0.875,"color":"#fff"},{"offset":1,"color":"#fff"}]}}},
        {"transform": [{"filter": "datum.group === 'Saline'"}], "mark": {"type": "bar", "blend": "difference", "fill": {"gradient": "linear", "x1": 0, "y1": 0, "x2": 0, "y2": 1, "stops": [
          {"offset":0,"color":"#000"},{"offset":0.0333,"color":"#000"},{"offset":0.0333,"color":"#fff"},{"offset":0.0667,"color":"#fff"},
          {"offset":0.0667,"color":"#000"},{"offset":0.1,"color":"#000"},{"offset":0.1,"color":"#fff"},{"offset":0.1333,"color":"#fff"},
          {"offset":0.1333,"color":"#000"},{"offset":0.1667,"color":"#000"},{"offset":0.1667,"color":"#fff"},{"offset":0.2,"color":"#fff"},
          {"offset":0.2,"color":"#000"},{"offset":0.2333,"color":"#000"},{"offset":0.2333,"color":"#fff"},{"offset":0.2667,"color":"#fff"},
          {"offset":0.2667,"color":"#000"},{"offset":0.3,"color":"#000"},{"offset":0.3,"color":"#fff"},{"offset":0.3333,"color":"#fff"},
          {"offset":0.3333,"color":"#000"},{"offset":0.3667,"color":"#000"},{"offset":0.3667,"color":"#fff"},{"offset":0.4,"color":"#fff"},
          {"offset":0.4,"color":"#000"},{"offset":0.4333,"color":"#000"},{"offset":0.4333,"color":"#fff"},{"offset":0.4667,"color":"#fff"},
          {"offset":0.4667,"color":"#000"},{"offset":0.5,"color":"#000"},{"offset":0.5,"color":"#fff"},{"offset":0.5333,"color":"#fff"},
          {"offset":0.5333,"color":"#000"},{"offset":0.5667,"color":"#000"},{"offset":0.5667,"color":"#fff"},{"offset":0.6,"color":"#fff"},
          {"offset":0.6,"color":"#000"},{"offset":0.6333,"color":"#000"},{"offset":0.6333,"color":"#fff"},{"offset":0.6667,"color":"#fff"},
          {"offset":0.6667,"color":"#000"},{"offset":0.7,"color":"#000"},{"offset":0.7,"color":"#fff"},{"offset":0.7333,"color":"#fff"},
          {"offset":0.7333,"color":"#000"},{"offset":0.7667,"color":"#000"},{"offset":0.7667,"color":"#fff"},{"offset":0.8,"color":"#fff"},
          {"offset":0.8,"color":"#000"},{"offset":0.8333,"color":"#000"},{"offset":0.8333,"color":"#fff"},{"offset":0.8667,"color":"#fff"},
          {"offset":0.8667,"color":"#000"},{"offset":0.9,"color":"#000"},{"offset":0.9,"color":"#fff"},{"offset":0.9333,"color":"#fff"},
          {"offset":0.9333,"color":"#000"},{"offset":0.9667,"color":"#000"},{"offset":0.9667,"color":"#fff"},{"offset":1,"color":"#fff"}]}}},
        {"transform": [{"filter": "datum.group === 'BBG 10μg'"}], "mark": {"type": "bar", "fill": {"gradient": "linear", "x1": 0, "y1": 0, "x2": 0, "y2": 1, "stops": [
          {"offset":0,"color":"#000"},{"offset":0.0227,"color":"#000"},{"offset":0.0227,"color":"#fff"},{"offset":0.0909,"color":"#fff"},
          {"offset":0.0909,"color":"#000"},{"offset":0.1136,"color":"#000"},{"offset":0.1136,"color":"#fff"},{"offset":0.1818,"color":"#fff"},
          {"offset":0.1818,"color":"#000"},{"offset":0.2045,"color":"#000"},{"offset":0.2045,"color":"#fff"},{"offset":0.2727,"color":"#fff"},
          {"offset":0.2727,"color":"#000"},{"offset":0.2955,"color":"#000"},{"offset":0.2955,"color":"#fff"},{"offset":0.3636,"color":"#fff"},
          {"offset":0.3636,"color":"#000"},{"offset":0.3864,"color":"#000"},{"offset":0.3864,"color":"#fff"},{"offset":0.4545,"color":"#fff"},
          {"offset":0.4545,"color":"#000"},{"offset":0.4773,"color":"#000"},{"offset":0.4773,"color":"#fff"},{"offset":0.5455,"color":"#fff"},
          {"offset":0.5455,"color":"#000"},{"offset":0.5682,"color":"#000"},{"offset":0.5682,"color":"#fff"},{"offset":0.6364,"color":"#fff"},
          {"offset":0.6364,"color":"#000"},{"offset":0.6591,"color":"#000"},{"offset":0.6591,"color":"#fff"},{"offset":0.7273,"color":"#fff"},
          {"offset":0.7273,"color":"#000"},{"offset":0.75,"color":"#000"},{"offset":0.75,"color":"#fff"},{"offset":0.8182,"color":"#fff"},
          {"offset":0.8182,"color":"#000"},{"offset":0.8409,"color":"#000"},{"offset":0.8409,"color":"#fff"},{"offset":0.9091,"color":"#fff"},
          {"offset":0.9091,"color":"#000"},{"offset":0.9318,"color":"#000"},{"offset":0.9318,"color":"#fff"},{"offset":1,"color":"#fff"}]}}},
        {"transform": [{"filter": "datum.group === 'OxATP 1μg'"}], "mark": {"type": "bar", "fill": {"gradient": "linear", "x1": 0, "y1": 0, "x2": 1, "y2": 0, "stops": [
          {"offset":0,"color":"#000"},{"offset":0.0313,"color":"#000"},{"offset":0.0313,"color":"#fff"},{"offset":0.125,"color":"#fff"},
          {"offset":0.125,"color":"#000"},{"offset":0.1563,"color":"#000"},{"offset":0.1563,"color":"#fff"},{"offset":0.25,"color":"#fff"},
          {"offset":0.25,"color":"#000"},{"offset":0.2813,"color":"#000"},{"offset":0.2813,"color":"#fff"},{"offset":0.375,"color":"#fff"},
          {"offset":0.375,"color":"#000"},{"offset":0.4063,"color":"#000"},{"offset":0.4063,"color":"#fff"},{"offset":0.5,"color":"#fff"},
          {"offset":0.5,"color":"#000"},{"offset":0.5313,"color":"#000"},{"offset":0.5313,"color":"#fff"},{"offset":0.625,"color":"#fff"},
          {"offset":0.625,"color":"#000"},{"offset":0.6563,"color":"#000"},{"offset":0.6563,"color":"#fff"},{"offset":0.75,"color":"#fff"},
          {"offset":0.75,"color":"#000"},{"offset":0.7813,"color":"#000"},{"offset":0.7813,"color":"#fff"},{"offset":0.875,"color":"#fff"},
          {"offset":0.875,"color":"#000"},{"offset":0.9063,"color":"#000"},{"offset":0.9063,"color":"#fff"},{"offset":1,"color":"#fff"}]}}},
        {"transform": [{"filter": "datum.group === 'A-438079 3μg'"}], "mark": {"type": "bar", "fill": {"gradient": "linear", "x1": 0, "y1": 0, "x2": 1.08, "y2": 0.905, "stops": [
          {"offset":0,"color":"#000"},{"offset":0.0167,"color":"#000"},{"offset":0.0167,"color":"#fff"},{"offset":0.0556,"color":"#fff"},
          {"offset":0.0556,"color":"#000"},{"offset":0.0722,"color":"#000"},{"offset":0.0722,"color":"#fff"},{"offset":0.1111,"color":"#fff"},
          {"offset":0.1111,"color":"#000"},{"offset":0.1278,"color":"#000"},{"offset":0.1278,"color":"#fff"},{"offset":0.1667,"color":"#fff"},
          {"offset":0.1667,"color":"#000"},{"offset":0.1833,"color":"#000"},{"offset":0.1833,"color":"#fff"},{"offset":0.2222,"color":"#fff"},
          {"offset":0.2222,"color":"#000"},{"offset":0.2389,"color":"#000"},{"offset":0.2389,"color":"#fff"},{"offset":0.2778,"color":"#fff"},
          {"offset":0.2778,"color":"#000"},{"offset":0.2944,"color":"#000"},{"offset":0.2944,"color":"#fff"},{"offset":0.3333,"color":"#fff"},
          {"offset":0.3333,"color":"#000"},{"offset":0.35,"color":"#000"},{"offset":0.35,"color":"#fff"},{"offset":0.3889,"color":"#fff"},
          {"offset":0.3889,"color":"#000"},{"offset":0.4056,"color":"#000"},{"offset":0.4056,"color":"#fff"},{"offset":0.4444,"color":"#fff"},
          {"offset":0.4444,"color":"#000"},{"offset":0.4611,"color":"#000"},{"offset":0.4611,"color":"#fff"},{"offset":0.5,"color":"#fff"},
          {"offset":0.5,"color":"#000"},{"offset":0.5167,"color":"#000"},{"offset":0.5167,"color":"#fff"},{"offset":0.5556,"color":"#fff"},
          {"offset":0.5556,"color":"#000"},{"offset":0.5722,"color":"#000"},{"offset":0.5722,"color":"#fff"},{"offset":0.6111,"color":"#fff"},
          {"offset":0.6111,"color":"#000"},{"offset":0.6278,"color":"#000"},{"offset":0.6278,"color":"#fff"},{"offset":0.6667,"color":"#fff"},
          {"offset":0.6667,"color":"#000"},{"offset":0.6833,"color":"#000"},{"offset":0.6833,"color":"#fff"},{"offset":0.7222,"color":"#fff"},
          {"offset":0.7222,"color":"#000"},{"offset":0.7389,"color":"#000"},{"offset":0.7389,"color":"#fff"},{"offset":0.7778,"color":"#fff"},
          {"offset":0.7778,"color":"#000"},{"offset":0.7944,"color":"#000"},{"offset":0.7944,"color":"#fff"},{"offset":0.8333,"color":"#fff"},
          {"offset":0.8333,"color":"#000"},{"offset":0.85,"color":"#000"},{"offset":0.85,"color":"#fff"},{"offset":0.8889,"color":"#fff"},
          {"offset":0.8889,"color":"#000"},{"offset":0.9056,"color":"#000"},{"offset":0.9056,"color":"#fff"},{"offset":0.9444,"color":"#fff"},
          {"offset":0.9444,"color":"#000"},{"offset":0.9611,"color":"#000"},{"offset":0.9611,"color":"#fff"},{"offset":1,"color":"#fff"}]}}},
        {"mark": {"type": "rule", "color": "#000", "strokeWidth": 4}, "encoding": {"y2": {"field": "err"}}},
        {"mark": {"type": "tick", "color": "#000", "thickness": 4, "size": 35}, "encoding": {"y": {"field": "err", "type": "quantitative", "title": "TNFα mRNA(2-ΔΔCT)"}}},
        {"mark": {"type": "text", "font": "Liberation Sans", "fontSize": 25, "fontWeight": "bold", "baseline": "alphabetic", "dy": 7, "color": "#000"}, "encoding": {"y": {"field": "err", "type": "quantitative", "title": "TNFα mRNA(2-ΔΔCT)"}, "text": {"field": "star"}}},
        {"mark": {"type": "text", "font": "Liberation Serif", "fontSize": 17, "baseline": "alphabetic", "dy": -4, "color": "#000"}, "encoding": {"y": {"field": "err", "type": "quantitative", "title": "TNFα mRNA(2-ΔΔCT)"}, "text": {"field": "hash"}}}
      ]
    }
  ]
}
